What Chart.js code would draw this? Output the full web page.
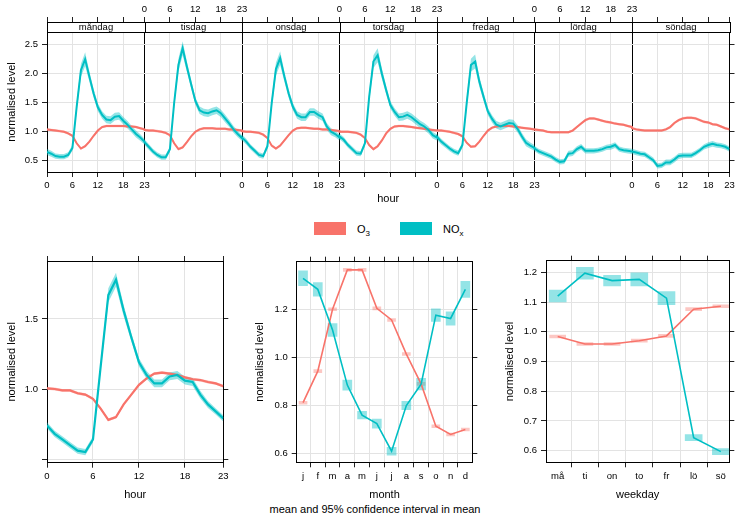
<!DOCTYPE html>
<html>
<head>
<meta charset="utf-8">
<script src="https://cdn.jsdelivr.net/npm/chart.js@4.4.0/dist/chart.umd.min.js"></script>
<style>
    body { margin: 0; background: #fff; width: 743px; height: 518px; position: relative; overflow: hidden;
           font-family: "Liberation Sans", Arial, sans-serif; color: #000; }
    canvas { position: absolute; }
    .swatch { position: absolute; width: 32px; height: 13px; }
    .legend-text { position: absolute; font-size: 11px; line-height: 13px; }
    .legend-text sub { font-size: 8px; }
    #caption { position: absolute; left: 240px; width: 270px; top: 503px; text-align: center; font-size: 11px; }
</style>
</head>
<body>
<canvas id="week-hour" style="left:0;top:0" width="743" height="206"></canvas>

<div class="swatch" style="left:314px;top:222px;background:#F8736A"></div>
<div class="legend-text" style="left:357px;top:223px">O<sub>3</sub></div>
<div class="swatch" style="left:400px;top:222px;background:#00BFC4"></div>
<div class="legend-text" style="left:443px;top:223px">NO<sub>x</sub></div>

<canvas id="hour-chart" style="left:0;top:240px" width="240" height="262"></canvas>
<canvas id="month-chart" style="left:245px;top:240px" width="240" height="262"></canvas>
<canvas id="weekday-chart" style="left:495px;top:240px" width="248" height="262"></canvas>
<div id="caption">mean and 95% confidence interval in mean</div>

<script>
// --- data (normalised levels) ---
const dayNames = ['måndag', 'tisdag', 'onsdag', 'torsdag', 'fredag', 'lördag', 'söndag'];
const hourTicks = [0, 6, 12, 18, 23];

// NOx per hour, one list per weekday
const noxMandag = [0.65, 0.62, 0.58, 0.57, 0.57, 0.60, 0.72, 1.43, 2.06, 2.25, 1.95, 1.66, 1.42, 1.29, 1.21, 1.20, 1.26, 1.27, 1.19, 1.12, 1.04, 0.96, 0.90, 0.83];
const noxTisdag = [0.82, 0.74, 0.66, 0.60, 0.56, 0.56, 0.70, 1.50, 2.15, 2.44, 2.12, 1.82, 1.53, 1.37, 1.33, 1.32, 1.35, 1.37, 1.32, 1.23, 1.14, 1.04, 0.96, 0.89];
const noxOnsdag = [0.90, 0.83, 0.74, 0.67, 0.60, 0.58, 0.75, 1.49, 2.08, 2.27, 1.95, 1.66, 1.43, 1.29, 1.25, 1.25, 1.34, 1.34, 1.29, 1.25, 1.09, 1.00, 0.96, 0.90];
const noxTorsdag = [0.92, 0.86, 0.77, 0.70, 0.63, 0.62, 0.80, 1.60, 2.21, 2.32, 2.00, 1.72, 1.46, 1.34, 1.25, 1.26, 1.29, 1.25, 1.19, 1.13, 1.09, 1.03, 0.94, 0.90];
const noxFredag = [0.91, 0.83, 0.77, 0.71, 0.66, 0.63, 0.77, 1.49, 2.15, 2.21, 1.86, 1.60, 1.35, 1.22, 1.12, 1.09, 1.12, 1.15, 1.14, 1.05, 0.92, 0.81, 0.76, 0.72];
const noxLordag = [0.71, 0.66, 0.63, 0.60, 0.57, 0.52, 0.48, 0.49, 0.62, 0.63, 0.70, 0.74, 0.67, 0.67, 0.67, 0.68, 0.70, 0.73, 0.74, 0.77, 0.70, 0.68, 0.67, 0.66];
const noxSondag = [0.66, 0.64, 0.62, 0.61, 0.56, 0.51, 0.41, 0.42, 0.47, 0.47, 0.52, 0.58, 0.59, 0.59, 0.59, 0.63, 0.68, 0.74, 0.77, 0.79, 0.77, 0.76, 0.74, 0.70];

// O3 per hour, one list per weekday
const o3Mandag = [1.04, 1.03, 1.02, 1.01, 1.00, 0.97, 0.93, 0.80, 0.71, 0.75, 0.83, 0.93, 1.02, 1.08, 1.10, 1.10, 1.10, 1.10, 1.10, 1.09, 1.09, 1.08, 1.06, 1.04];
const o3Tisdag = [1.03, 1.02, 1.02, 1.01, 1.00, 0.98, 0.94, 0.80, 0.70, 0.73, 0.82, 0.92, 1.00, 1.04, 1.06, 1.06, 1.06, 1.05, 1.05, 1.05, 1.04, 1.04, 1.03, 1.02];
const o3Onsdag = [1.01, 1.00, 1.00, 0.99, 0.98, 0.95, 0.89, 0.76, 0.71, 0.76, 0.85, 0.94, 1.02, 1.06, 1.07, 1.07, 1.06, 1.05, 1.05, 1.04, 1.04, 1.03, 1.02, 1.01];
const o3Torsdag = [1.00, 1.00, 1.00, 0.99, 0.98, 0.95, 0.89, 0.77, 0.70, 0.75, 0.85, 0.97, 1.05, 1.09, 1.10, 1.10, 1.09, 1.08, 1.07, 1.06, 1.05, 1.04, 1.03, 1.02];
const o3Fredag = [1.02, 1.02, 1.01, 1.00, 0.98, 0.96, 0.92, 0.81, 0.74, 0.75, 0.83, 0.93, 1.02, 1.07, 1.09, 1.10, 1.10, 1.10, 1.09, 1.08, 1.07, 1.06, 1.05, 1.04];
const o3Lordag = [1.04, 1.03, 1.02, 1.00, 0.99, 0.99, 0.99, 0.99, 0.99, 1.02, 1.08, 1.14, 1.20, 1.23, 1.23, 1.21, 1.19, 1.17, 1.16, 1.14, 1.13, 1.12, 1.10, 1.08];
const o3Sondag = [1.06, 1.04, 1.03, 1.02, 1.02, 1.02, 1.02, 1.02, 1.04, 1.08, 1.15, 1.20, 1.23, 1.24, 1.24, 1.23, 1.20, 1.17, 1.16, 1.13, 1.12, 1.09, 1.06, 1.04];

// half width of the 95% interval per hour
const noxCiWorkday = [0.05, 0.05, 0.045, 0.045, 0.045, 0.045, 0.05, 0.08, 0.11, 0.12, 0.09, 0.075, 0.065, 0.065, 0.065, 0.065, 0.065, 0.065, 0.065, 0.065, 0.06, 0.06, 0.055, 0.05];
const noxCiWeekend = [0.045, 0.045, 0.045, 0.045, 0.045, 0.045, 0.045, 0.045, 0.05, 0.05, 0.05, 0.05, 0.045, 0.045, 0.045, 0.045, 0.045, 0.045, 0.05, 0.05, 0.045, 0.045, 0.045, 0.045];
const o3CiHourDay = [0.022, 0.022, 0.022, 0.022, 0.022, 0.022, 0.022, 0.022, 0.022, 0.022, 0.022, 0.022, 0.022, 0.022, 0.022, 0.022, 0.022, 0.022, 0.022, 0.022, 0.022, 0.022, 0.022, 0.022];

// all days pooled, per hour
const noxHour = [0.74, 0.68, 0.64, 0.60, 0.56, 0.55, 0.64, 1.16, 1.67, 1.78, 1.56, 1.37, 1.19, 1.10, 1.04, 1.04, 1.09, 1.10, 1.06, 1.05, 0.96, 0.89, 0.84, 0.79];
const o3Hour = [1.005, 1.0, 0.99, 0.99, 0.97, 0.96, 0.93, 0.86, 0.78, 0.80, 0.89, 0.96, 1.03, 1.076, 1.11, 1.117, 1.11, 1.10, 1.083, 1.07, 1.064, 1.05, 1.04, 1.02];
const noxHourCi = [0.022, 0.022, 0.022, 0.022, 0.022, 0.022, 0.022, 0.03, 0.05, 0.05, 0.04, 0.03, 0.03, 0.028, 0.028, 0.028, 0.028, 0.028, 0.028, 0.028, 0.028, 0.025, 0.022, 0.022];
const o3HourCi = [0.01, 0.01, 0.01, 0.01, 0.01, 0.01, 0.01, 0.01, 0.01, 0.01, 0.01, 0.01, 0.01, 0.01, 0.01, 0.01, 0.01, 0.01, 0.01, 0.01, 0.01, 0.01, 0.01, 0.01];

// per month
const monthLabels = ['j', 'f', 'm', 'a', 'm', 'j', 'j', 'a', 's', 'o', 'n', 'd'];
const noxMonth = [1.329, 1.283, 1.114, 0.885, 0.76, 0.725, 0.61, 0.80, 0.889, 1.176, 1.162, 1.283];
const o3Month = [0.812, 0.943, 1.20, 1.364, 1.364, 1.204, 1.156, 1.014, 0.89, 0.714, 0.68, 0.70];
const noxMonthCi = [0.031, 0.028, 0.027, 0.021, 0.016, 0.019, 0.016, 0.017, 0.024, 0.026, 0.028, 0.033];
const o3MonthCi = [0.006, 0.006, 0.006, 0.006, 0.006, 0.006, 0.006, 0.006, 0.006, 0.006, 0.006, 0.006];

// per weekday
const weekdayLabels = ['må', 'ti', 'on', 'to', 'fr', 'lö', 'sö'];
const noxWeekday = [1.120, 1.197, 1.172, 1.176, 1.113, 0.644, 0.597];
const o3Weekday = [0.984, 0.959, 0.959, 0.970, 0.986, 1.076, 1.086];
const noxWeekdayCi = [0.02, 0.02, 0.018, 0.022, 0.022, 0.01, 0.01];
const o3WeekdayCi = [0.005, 0.005, 0.005, 0.005, 0.005, 0.005, 0.005];

// --- style ---
const O3_COLOR = '#F8736A';
const NOX_COLOR = '#00BFC4';
const O3_BAND = 'rgba(248, 115, 106, 0.4)';
const NOX_BAND = 'rgba(0, 191, 196, 0.42)';
const GRID = '#e3e3e3';
const AXIS = '#222';

Chart.defaults.font.family = '"Liberation Sans", Arial, sans-serif';
Chart.defaults.font.size = 9.5;
Chart.defaults.color = '#000';
Chart.defaults.animation = false;

const noxDays = [noxMandag, noxTisdag, noxOnsdag, noxTorsdag, noxFredag, noxLordag, noxSondag];
const o3Days = [o3Mandag, o3Tisdag, o3Onsdag, o3Torsdag, o3Fredag, o3Lordag, o3Sondag];

// fixes the size of an axis box so the plot areas line up like the original
function boxSize(size) {
    return scale => {
        if (scale.isHorizontal()) scale.height = size;
        else scale.width = size;
    };
}

function fixedTicks(values) {
    return scale => { scale.ticks = values.map(v => ({ value: v })); };
}

function lineSet(data, color, width) {
    return { type: 'line', data, borderColor: color, borderWidth: width, pointRadius: 0, tension: 0, fill: false };
}

function bandSets(upper, lower, color, target) {
    return [
        { type: 'line', data: upper, borderWidth: 0, pointRadius: 0, tension: 0, backgroundColor: color, fill: target },
        { type: 'line', data: lower, borderWidth: 0, pointRadius: 0, tension: 0, fill: false }
    ];
}

// --- top chart: every hour of the week, one panel per day ---
const PANEL = 23;

function weekPoints(days, ciFor, sign) {
    const points = [];
    days.forEach((values, d) => {
        const ci = ciFor(d);
        values.forEach((v, h) => points.push({ x: d * PANEL + h, y: v + sign * ci[h] }));
    });
    return points;
}

const weekTickValues = [];
dayNames.forEach((name, d) => [0, 6, 12, 18].forEach(h => weekTickValues.push(d * PANEL + h)));
weekTickValues.push(dayNames.length * PANEL);

function weekTickLabel(value, labelled) {
    const p = Math.floor(value / PANEL);
    const h = value - p * PANEL;
    if (h === 0) {
        if (p < dayNames.length && labelled(p)) return '0';
        if (p >= 1 && labelled(p - 1)) return '23';
        return '';
    }
    return labelled(p) ? String(h) : '';
}

const noxCiFor = d => (d < 5 ? noxCiWorkday : noxCiWeekend);
const o3CiFor = () => o3CiHourDay;

const stripPlugin = {
    id: 'dayStrips',
    afterDraw(chart) {
        const { ctx, chartArea, scales: { x } } = chart;
        const top = Math.round(chartArea.top) - 10;
        ctx.save();
        ctx.font = '9.5px "Liberation Sans", Arial, sans-serif';
        ctx.textAlign = 'center';
        ctx.textBaseline = 'middle';
        dayNames.forEach((name, i) => {
            const x0 = Math.round(x.getPixelForValue(i * PANEL));
            const x1 = Math.round(x.getPixelForValue((i + 1) * PANEL));
            ctx.fillStyle = '#fff';
            ctx.fillRect(x0, top, x1 - x0, 10);
            ctx.strokeStyle = '#000';
            ctx.lineWidth = 1;
            ctx.strokeRect(x0 + 0.5, top + 0.5, x1 - x0, 10);
            ctx.fillStyle = '#000';
            ctx.fillText(name, (x0 + x1) / 2, top + 5.5);
        });
        ctx.restore();
    }
};

new Chart(document.getElementById('week-hour'), {
    type: 'line',
    data: {
        datasets: [
            lineSet(weekPoints(noxDays, noxCiFor, 0), NOX_COLOR, 2),
            lineSet(weekPoints(o3Days, o3CiFor, 0), O3_COLOR, 2),
            ...bandSets(weekPoints(noxDays, noxCiFor, 1), weekPoints(noxDays, noxCiFor, -1), NOX_BAND, 3),
            ...bandSets(weekPoints(o3Days, o3CiFor, 1), weekPoints(o3Days, o3CiFor, -1), O3_BAND, 5)
        ]
    },
    options: {
        responsive: false,
        layout: { padding: 0 },
        plugins: { legend: { display: false }, tooltip: { enabled: false } },
        scales: {
            x: {
                type: 'linear', position: 'bottom', min: 0, max: dayNames.length * PANEL,
                afterBuildTicks: fixedTicks(weekTickValues), afterFit: boxSize(34),
                ticks: { autoSkip: false, maxRotation: 0, padding: 3,
                         callback: v => weekTickLabel(v, p => p % 2 === 0) },
                grid: { color: c => (c.tick && c.tick.value % PANEL === 0 ? '#000' : GRID),
                        tickColor: AXIS, tickLength: 5 },
                border: { color: '#000' },
                title: { display: true, text: 'hour', font: { size: 11 }, padding: { top: 0, bottom: 0 } }
            },
            x2: {
                type: 'linear', position: 'top', min: 0, max: dayNames.length * PANEL,
                afterBuildTicks: fixedTicks(weekTickValues), afterFit: boxSize(32),
                ticks: { autoSkip: false, maxRotation: 0, padding: 2,
                         callback: v => weekTickLabel(v, p => p % 2 === 1) },
                grid: { drawOnChartArea: false, tickColor: AXIS, tickLength: 15 },
                border: { color: '#000' }
            },
            y: {
                position: 'left', min: 0.305, max: 2.72,
                afterBuildTicks: fixedTicks([0.5, 1.0, 1.5, 2.0, 2.5]), afterFit: boxSize(47),
                ticks: { padding: 4, callback: v => v.toFixed(1) },
                grid: { color: GRID, tickColor: AXIS, tickLength: 5 },
                border: { color: '#000' },
                title: { display: true, text: 'normalised level', font: { size: 11 }, padding: { top: 5, bottom: 0 } }
            },
            y2: {
                position: 'right', min: 0.305, max: 2.72,
                afterBuildTicks: fixedTicks([0.5, 1.0, 1.5, 2.0, 2.5]), afterFit: boxSize(13.5),
                ticks: { callback: () => '' },
                grid: { drawOnChartArea: false, tickColor: AXIS, tickLength: 5 },
                border: { color: '#000' }
            }
        }
    },
    plugins: [stripPlugin]
});

// --- bottom panels ---
function frameScales(o) {
    return {
        x: {
            type: 'linear', position: 'bottom', min: o.xMin, max: o.xMax, offset: false,
            afterBuildTicks: fixedTicks(o.xTicks), afterFit: boxSize(o.bottom),
            ticks: { autoSkip: false, maxRotation: 0, padding: 3, callback: o.xLabel },
            grid: { color: GRID, tickColor: AXIS, tickLength: 5 },
            border: { color: '#000' },
            title: { display: true, text: o.xTitle, font: { size: 11 }, padding: { top: 0, bottom: 0 } }
        },
        x2: {
            type: 'linear', position: 'top', min: o.xMin, max: o.xMax, offset: false,
            afterBuildTicks: fixedTicks(o.xTicks), afterFit: boxSize(o.top),
            ticks: { autoSkip: false, callback: () => '' },
            grid: { drawOnChartArea: false, tickColor: AXIS, tickLength: 5 },
            border: { color: '#000' }
        },
        y: {
            position: 'left', min: o.yMin, max: o.yMax,
            afterBuildTicks: fixedTicks(o.yTicks), afterFit: boxSize(o.left),
            ticks: { padding: 4, callback: o.yLabel },
            grid: { color: GRID, tickColor: AXIS, tickLength: 5 },
            border: { color: '#000' },
            title: { display: true, text: 'normalised level', font: { size: 11 }, padding: { top: o.titlePad, bottom: 0 } }
        },
        y2: {
            position: 'right', min: o.yMin, max: o.yMax,
            afterBuildTicks: fixedTicks(o.yTicks), afterFit: boxSize(o.right),
            ticks: { callback: () => '' },
            grid: { drawOnChartArea: false, tickColor: AXIS, tickLength: 5 },
            border: { color: '#000' }
        }
    };
}

const baseOptions = {
    responsive: false,
    layout: { padding: 0 },
    plugins: { legend: { display: false }, tooltip: { enabled: false } }
};

const hourPoints = (vals, ci, sign) => vals.map((v, h) => ({ x: h, y: v + sign * ci[h] }));

new Chart(document.getElementById('hour-chart'), {
    type: 'line',
    data: {
        datasets: [
            lineSet(hourPoints(noxHour, noxHourCi, 0), NOX_COLOR, 2.2),
            lineSet(hourPoints(o3Hour, o3HourCi, 0), O3_COLOR, 2.2),
            ...bandSets(hourPoints(noxHour, noxHourCi, 1), hourPoints(noxHour, noxHourCi, -1), NOX_BAND, 3),
            ...bandSets(hourPoints(o3Hour, o3HourCi, 1), hourPoints(o3Hour, o3HourCi, -1), O3_BAND, 5)
        ]
    },
    options: {
        ...baseOptions,
        scales: frameScales({
            xMin: 0, xMax: 23, xTicks: hourTicks, xLabel: v => String(v), xTitle: 'hour',
            yMin: 0.474, yMax: 1.914, yTicks: [0.5, 1.0, 1.5], yLabel: v => (v < 0.9 ? '' : v.toFixed(1)),
            left: 47, right: 16.7, top: 21, bottom: 39.3, titlePad: 5
        })
    }
});

function meanSets(means, cis, lineColor, boxColor, thickness) {
    return {
        line: lineSet(means.map((v, i) => ({ x: i + 1, y: v })), lineColor, 1.6),
        box: {
            type: 'bar', data: means.map((v, i) => ({ x: i + 1, y: [v - cis[i], v + cis[i]] })),
            backgroundColor: boxColor, borderWidth: 0, barThickness: thickness, grouped: false
        }
    };
}

const noxM = meanSets(noxMonth, noxMonthCi, NOX_COLOR, NOX_BAND, 9);
const o3M = meanSets(o3Month, o3MonthCi, O3_COLOR, O3_BAND, 8);

new Chart(document.getElementById('month-chart'), {
    type: 'bar',
    data: { datasets: [noxM.line, o3M.line, noxM.box, o3M.box] },
    options: {
        ...baseOptions,
        scales: frameScales({
            xMin: 0.57, xMax: 12.47, xTicks: monthLabels.map((m, i) => i + 1),
            xLabel: v => monthLabels[v - 1] || '', xTitle: 'month',
            yMin: 0.564, yMax: 1.398, yTicks: [0.6, 0.8, 1.0, 1.2], yLabel: v => v.toFixed(1),
            left: 51.7, right: 12.7, top: 21.7, bottom: 39.7, titlePad: 8.4
        })
    }
});

const noxW = meanSets(noxWeekday, noxWeekdayCi, NOX_COLOR, NOX_BAND, 17);
const o3W = meanSets(o3Weekday, o3WeekdayCi, O3_COLOR, O3_BAND, 16);

new Chart(document.getElementById('weekday-chart'), {
    type: 'bar',
    data: { datasets: [noxW.line, o3W.line, noxW.box, o3W.box] },
    options: {
        ...baseOptions,
        scales: frameScales({
            xMin: 0.57, xMax: 7.31, xTicks: weekdayLabels.map((d, i) => i + 1),
            xLabel: v => weekdayLabels[v - 1] || '', xTitle: 'weekday',
            yMin: 0.561, yMax: 1.239, yTicks: [0.6, 0.7, 0.8, 0.9, 1.0, 1.1, 1.2], yLabel: v => v.toFixed(1),
            left: 51, right: 13.7, top: 20.7, bottom: 39.7, titlePad: 8.4
        })
    }
});
</script>
</body>
</html>
